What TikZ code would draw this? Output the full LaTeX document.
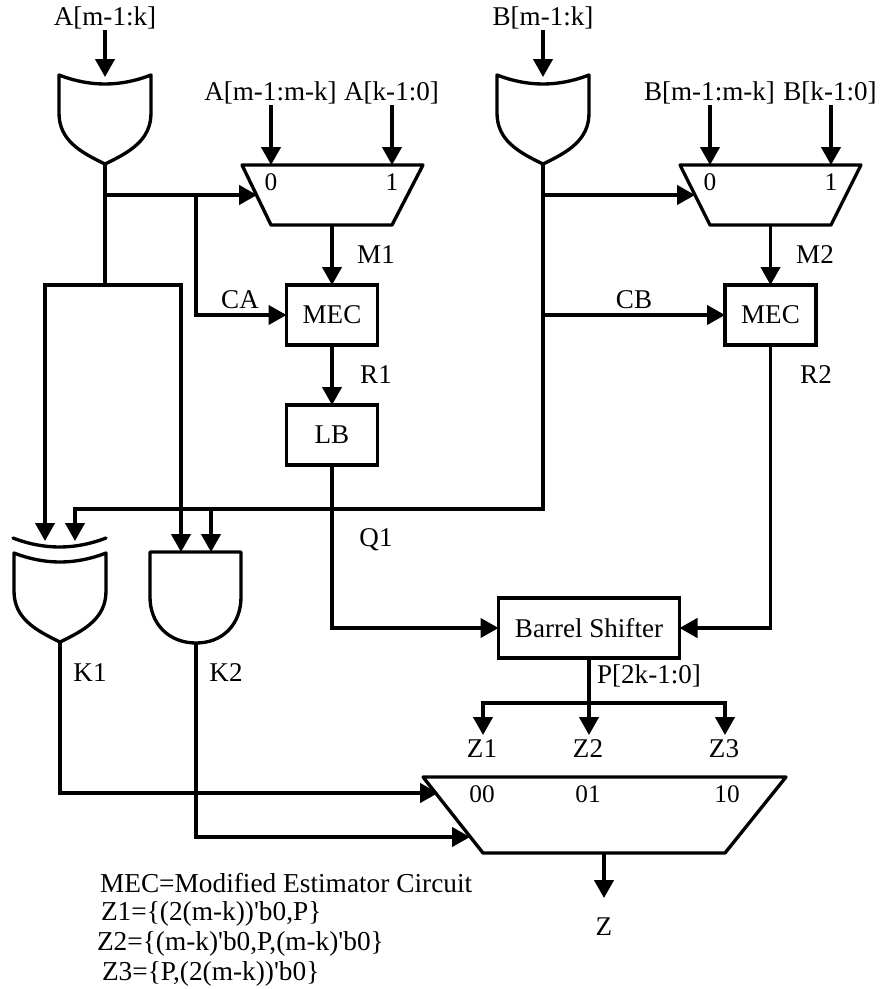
\documentclass[tikz,border=0pt]{standalone}
\usepackage{fontspec}
\setmainfont{Liberation Serif}[Ligatures=TeXOff]
\usetikzlibrary{arrows.meta}
\tikzset{
  wire/.style={line width=2.5pt,line cap=butt,line join=miter},
  capwire/.style={line width=2.5pt,line cap=rect,line join=miter},
  arr/.style={wire,-{Triangle[length=13.5pt,width=14.5pt]}},
  shp/.style={line width=2.5pt,line join=round,line cap=round},
  boxn/.style={draw,line width=2.5pt,minimum width=68.25pt,minimum height=45pt,inner sep=0pt,outer sep=0pt,font=\fontsize{20.3}{24}\selectfont},
  lab/.style={inner sep=0pt,outer sep=0pt,font=\fontsize{20.3}{24}\selectfont},
  notelab/.style={inner sep=0pt,outer sep=0pt,anchor=base west,font=\fontsize{20.5}{24}\selectfont},
  smalllab/.style={inner sep=0pt,outer sep=0pt,font=\fontsize{19}{23}\selectfont},
  orgate/.pic={
    \draw[shp] (-46,-9) .. controls (-15,3) and (15,3) .. (46,-9) -- (46,29)
      .. controls (46,56) and (25,68) .. (0,80) .. controls (-25,68) and (-46,56) .. (-46,29) -- cycle;
    \coordinate (-in) at (0,-7);
    \coordinate (-out) at (0,80);
  },
  andgate/.pic={
    \draw[shp] (-46,-45) -- (45,-45) -- (45,0) .. controls (45,27) and (27,46) .. (0,46)
      .. controls (-27,46) and (-46,27) .. (-46,0) -- cycle;
    \coordinate (-out) at (0,46);
  }
}
\begin{document}
\begin{tikzpicture}[x=0.75pt,y=-0.75pt]
\useasboundingbox (0,0) rectangle (879,989);
% gates
\pic (ga) at (105,84) {orgate};
\pic (gb) at (543,84) {orgate};
\pic (gx) at (60,562) {orgate};
\pic (gk) at (196,597) {andgate};
\draw[shp] (13,538) .. controls (44,550) and (75,550) .. (106,538);
% muxes
\draw[shp] (242,165) -- (423,165) -- (392,225) -- (271,225) -- cycle;
\draw[shp] (680,165) -- (861,165) -- (831,225) -- (710,225) -- cycle;
\draw[shp] (423,777) -- (786,777) -- (725,853) -- (483,853) -- cycle;
% boxes
\node[boxn] (mec1) at (332,315) {MEC};
\node[boxn] (mec2) at (770.5,315) {MEC};
\node[boxn] (lb) at (332,435) {LB};
\node[boxn,minimum width=135.75pt] (bs) at (589,628) {Barrel Shifter};
% labels
\node[lab] (la) at (105,18) {A[m-1:k]};
\node[lab] (lb1) at (543,18) {B[m-1:k]};
\node[lab] (la0) at (270.5,93) {A[m-1:m-k]};
\node[lab] (la1) at (391.5,93) {A[k-1:0]};
\node[lab] (lb0) at (709.5,93) {B[m-1:m-k]};
\node[lab] (lb2) at (830,93) {B[k-1:0]};
\node[smalllab] (m10) at (271,182) {0};
\node[smalllab] (m11) at (392,182) {1};
\node[smalllab] (m20) at (710,182) {0};
\node[smalllab] (m21) at (831,182) {1};
\node[lab] (m1) at (376,255) {M1};
\node[lab] (m2) at (815,255) {M2};
\node[lab] (ca) at (240,300) {CA};
\node[lab] (cb) at (634,300) {CB};
\node[lab] (r1) at (376,375) {R1};
\node[lab] (r2) at (816,375) {R2};
\node[lab] (q1) at (376,540) {Q1};
\node[lab] (k1) at (90,673) {K1};
\node[lab] (k2) at (226,673) {K2};
\node[lab] (p) at (649,675.5) {P[2k-1:0]};
\node[lab] (z1) at (482,749) {Z1};
\node[lab] (z2) at (588,749) {Z2};
\node[lab] (z3) at (724,749) {Z3};
\node[smalllab] (s00) at (482,794) {00};
\node[smalllab] (s01) at (588,794) {01};
\node[smalllab] (s10) at (727,794) {10};
\node[lab] (z) at (604,927) {Z};
\node[notelab] (t1) at (100,892) {MEC=Modified Estimator Circuit};
\node[notelab] (t2) at (101,920) {Z1=\{(2(m-k))'b0,P\}};
\node[notelab] (t3) at (97,950) {Z2=\{(m-k)'b0,P,(m-k)'b0\}};
\node[notelab] (t4) at (102,980) {Z3=\{P,(2(m-k))'b0\}};
% free ends and junctions
\coordinate (a0) at (105,30);
\coordinate (b0) at (543,30);
\coordinate (ai0) at (271,105);
\coordinate (ai1) at (392,105);
\coordinate (bi0) at (710,105);
\coordinate (bi1) at (831,105);
\coordinate (m1i0) at (271,165);
\coordinate (m1i1) at (392,165);
\coordinate (m2i0) at (710,165);
\coordinate (m2i1) at (831,165);
\coordinate (m1o) at (332,225);
\coordinate (m2o) at (770.5,225);
\coordinate (m1s) at (257,195);
\coordinate (m2s) at (695,195);
\coordinate (ja) at (105,195);
\coordinate (jb) at (196,195);
\coordinate (jc) at (105,285);
\coordinate (jd) at (45,285);
\coordinate (je) at (181,285);
\coordinate (k1a) at (45,541);
\coordinate (k2a) at (181,552);
\coordinate (k2b) at (211,552);
\coordinate (k1b) at (75,541);
\coordinate (h1) at (75,509);
\coordinate (h2) at (211,509);
\coordinate (h3) at (543,509);
\coordinate (h4) at (543,195);
\coordinate (h5) at (543,315);
\coordinate (bm) at (196,315);
\coordinate (lbc) at (332,628);
\coordinate (r2c) at (770.5,628);
\coordinate (pj) at (589,703);
\coordinate (pl) at (483,703);
\coordinate (pr) at (725,703);
\coordinate (pt1) at (483,735);
\coordinate (pt2) at (589,735);
\coordinate (pt3) at (725,735);
\coordinate (k1c) at (60,793);
\coordinate (k1d) at (438,793);
\coordinate (k2c) at (196,837);
\coordinate (k2d) at (470,837);
\coordinate (zs) at (604,853);
\coordinate (ze) at (604,898);
% connectors
\draw[arr] (a0) -- (ga-in);
\draw[arr] (b0) -- (gb-in);
\draw[arr] (ai0) -- (m1i0);
\draw[arr] (ai1) -- (m1i1);
\draw[arr] (bi0) -- (m2i0);
\draw[arr] (bi1) -- (m2i1);
\draw[wire] (ga-out) -- (jc);
\draw[arr] (ja) -- (m1s);
\draw[arr] (jb) -- (bm) -- (mec1.west);
\draw[capwire] (jd) -- (je);
\draw[arr] (jd) -- (k1a);
\draw[arr] (je) -- (k2a);
\draw[arr] (gb-out) -- (h3) -- (h1) -- (k1b);
\draw[arr] (h2) -- (k2b);
\draw[arr] (h4) -- (m2s);
\draw[arr] (h5) -- (mec2.west);
\draw[arr] (m1o) -- (mec1.north);
\draw[arr] (m2o) -- (mec2.north);
\draw[arr] (mec1.south) -- (lb.north);
\draw[arr] (lb.south) -- (lbc) -- (bs.west);
\draw[arr] (mec2.south) -- (r2c) -- (bs.east);
\draw[arr] (bs.south) -- (pt2);
\draw[capwire] (pl) -- (pr);
\draw[arr] (pl) -- (pt1);
\draw[arr] (pr) -- (pt3);
\draw[arr] (gx-out) -- (k1c) -- (k1d);
\draw[arr] (gk-out) -- (k2c) -- (k2d);
\draw[arr] (zs) -- (ze);
\end{tikzpicture}
\end{document}
